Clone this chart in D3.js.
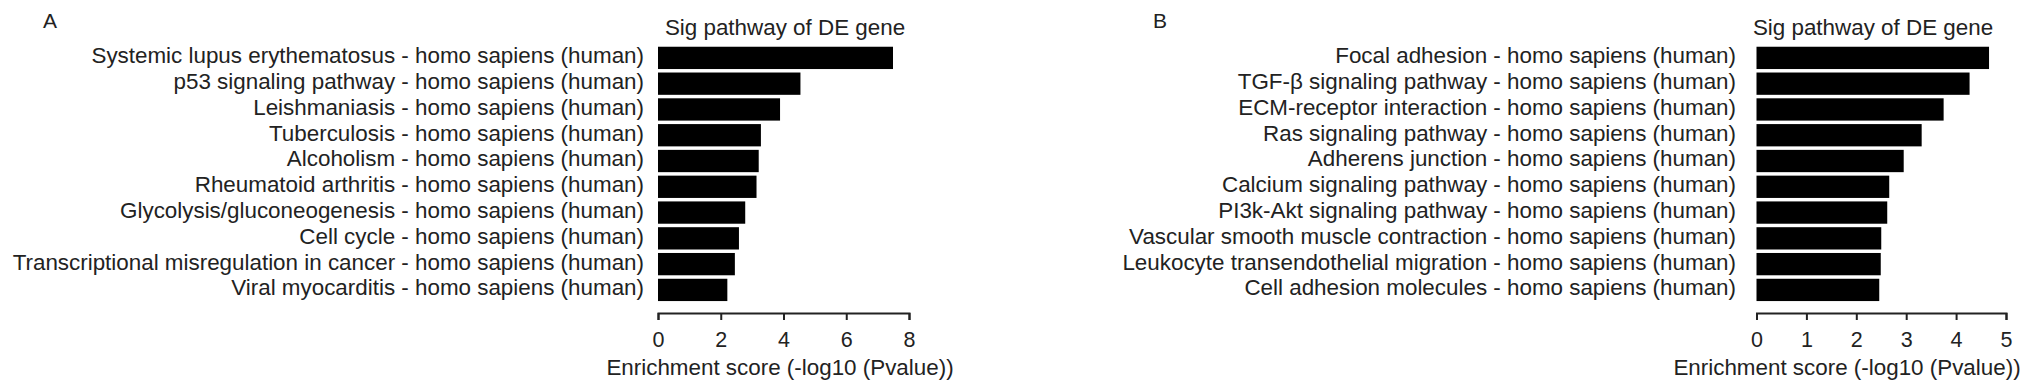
<!DOCTYPE html>
<html>
<head>
<meta charset="utf-8">
<script src="https://cdn.jsdelivr.net/npm/d3@7"></script>
<style>
  body { margin: 0; background: #fff; }
  text { font-family: "Liberation Sans", Arial, sans-serif; fill: #222; }
</style>
</head>
<body>
<div id="chart"></div>
<script>
// data
const pathwaysA = [
  "Systemic lupus erythematosus - homo sapiens (human)",
  "p53 signaling pathway - homo sapiens (human)",
  "Leishmaniasis - homo sapiens (human)",
  "Tuberculosis - homo sapiens (human)",
  "Alcoholism - homo sapiens (human)",
  "Rheumatoid arthritis - homo sapiens (human)",
  "Glycolysis/gluconeogenesis - homo sapiens (human)",
  "Cell cycle - homo sapiens (human)",
  "Transcriptional misregulation in cancer - homo sapiens (human)",
  "Viral myocarditis - homo sapiens (human)"
];
const scoresA = [7.49, 4.54, 3.89, 3.28, 3.21, 3.14, 2.78, 2.58, 2.45, 2.21];
const ticksA = [0, 2, 4, 6, 8];

const pathwaysB = [
  "Focal adhesion - homo sapiens (human)",
  "TGF-\u03b2 signaling pathway - homo sapiens (human)",
  "ECM-receptor interaction - homo sapiens (human)",
  "Ras signaling pathway - homo sapiens (human)",
  "Adherens junction - homo sapiens (human)",
  "Calcium signaling pathway - homo sapiens (human)",
  "PI3k-Akt signaling pathway - homo sapiens (human)",
  "Vascular smooth muscle contraction - homo sapiens (human)",
  "Leukocyte transendothelial migration - homo sapiens (human)",
  "Cell adhesion molecules - homo sapiens (human)"
];
const scoresB = [4.66, 4.27, 3.75, 3.31, 2.95, 2.66, 2.62, 2.50, 2.49, 2.46];
const ticksB = [0, 1, 2, 3, 4, 5];

const chartTitle = "Sig pathway of DE gene";
const axisTitle = "Enrichment score (-log10 (Pvalue))";

const width = 2032, height = 391;

const svg = d3.select("#chart")
  .append("svg")
    .attr("width", width)
    .attr("height", height);

function barPanel(opts) {
  const x = d3.scaleLinear()
    .domain([0, opts.max])
    .range([opts.x0, opts.x1]);

  const y = d3.scaleBand()
    .domain(opts.labels)
    .range([45, 302.8])
    .paddingInner(0.135)
    .paddingOuter(0.0675);

  const g = svg.append("g");

  // panel letter
  g.append("text")
    .attr("x", opts.letterX)
    .attr("y", 28)
    .style("font-size", "21px")
    .text(opts.letter);

  // title
  g.append("text")
    .attr("x", opts.titleX)
    .attr("y", 35)
    .attr("text-anchor", "middle")
    .style("font-size", "22.4px")
    .text(chartTitle);

  // bars
  g.selectAll("rect")
    .data(opts.values)
    .join("rect")
      .attr("x", x(0))
      .attr("y", (d, i) => y(opts.labels[i]))
      .attr("width", d => x(d) - x(0))
      .attr("height", y.bandwidth())
      .attr("fill", "#000");

  // category labels
  g.selectAll(".lab")
    .data(opts.labels)
    .join("text")
      .attr("class", "lab")
      .attr("x", opts.labelX)
      .attr("y", d => y(d) + y.bandwidth() / 2)
      .attr("dy", "0.24em")
      .attr("text-anchor", "end")
      .style("font-size", "22.4px")
      .text(d => d);

  // x axis
  const ax = g.append("g")
    .attr("transform", "translate(0,313)")
    .call(d3.axisBottom(x)
      .tickValues(opts.ticks)
      .tickFormat(d3.format("d"))
      .tickSize(7)
      .tickSizeOuter(7)
      .tickPadding(12));
  ax.select(".domain").attr("stroke", "#222").attr("stroke-width", 2);
  ax.selectAll(".tick line").attr("stroke", "#222").attr("stroke-width", 2);
  ax.selectAll(".tick text")
    .attr("fill", "#222")
    .style("font-family", "'Liberation Sans', Arial, sans-serif")
    .style("font-size", "21.5px");

  g.append("text")
    .attr("x", opts.axisTitleX)
    .attr("y", 375)
    .attr("text-anchor", "middle")
    .style("font-size", "22.4px")
    .text(axisTitle);
}

barPanel({
  labels: pathwaysA, values: scoresA, ticks: ticksA, max: 8,
  x0: 658, x1: 909, labelX: 644,
  letter: "A", letterX: 43, titleX: 785, axisTitleX: 780
});

barPanel({
  labels: pathwaysB, values: scoresB, ticks: ticksB, max: 5,
  x0: 1756.5, x1: 2006, labelX: 1736,
  letter: "B", letterX: 1153, titleX: 1873, axisTitleX: 1847
});
</script>
</body>
</html>
